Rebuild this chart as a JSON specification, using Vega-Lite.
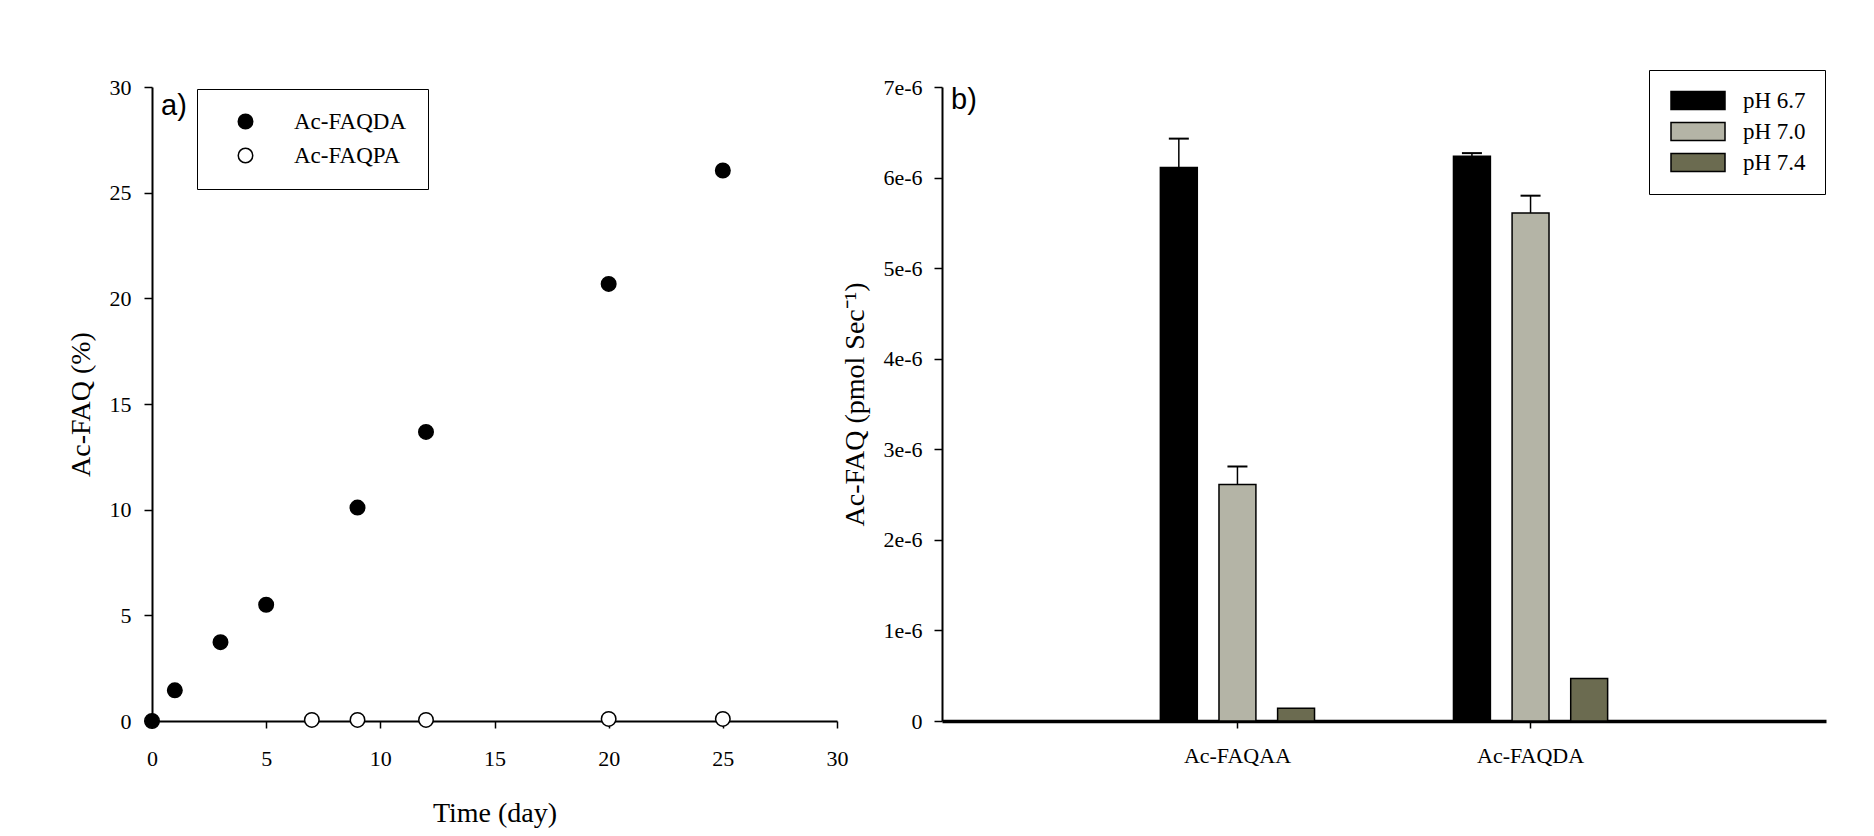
{
  "$schema": "https://vega.github.io/schema/vega-lite/v6.json",
  "background": "white",
  "padding": {"left": 67, "top": 69, "right": 5, "bottom": 5},
  "spacing": 105,
  "bounds": "flush",
  "config": {
    "font": "Liberation Serif",
    "view": {"stroke": null},
    "axis": {
      "grid": false,
      "domainColor": "black",
      "tickColor": "black",
      "labelColor": "black",
      "titleColor": "black",
      "labelFont": "Liberation Serif",
      "titleFont": "Liberation Serif",
      "labelFontSize": 22,
      "titleFontSize": 28,
      "titleFontWeight": "normal",
      "tickSize": 8,
      "tickWidth": 1.5,
      "domainWidth": 2
    }
  },
  "resolve": {"scale": {"fill": "independent", "x": "independent", "y": "independent"}},
  "hconcat": [
    {
      "width": 685,
      "height": 634,
      "title": {"text": "a)", "anchor": "start", "frame": "group", "font": "Liberation Sans", "fontSize": 29, "fontWeight": "normal", "color": "black", "offset": 0, "baseline": "top", "dx": 9, "dy": 45},
      "data": {"values": [
        {"day": 0, "pct": 0, "peptide": "Ac-FAQDA"},
        {"day": 1, "pct": 1.45, "peptide": "Ac-FAQDA"},
        {"day": 3, "pct": 3.73, "peptide": "Ac-FAQDA"},
        {"day": 5, "pct": 5.5, "peptide": "Ac-FAQDA"},
        {"day": 9, "pct": 10.1, "peptide": "Ac-FAQDA"},
        {"day": 12, "pct": 13.68, "peptide": "Ac-FAQDA"},
        {"day": 20, "pct": 20.68, "peptide": "Ac-FAQDA"},
        {"day": 25, "pct": 26.05, "peptide": "Ac-FAQDA"},
        {"day": 7, "pct": 0.05, "peptide": "Ac-FAQPA"},
        {"day": 9, "pct": 0.05, "peptide": "Ac-FAQPA"},
        {"day": 12, "pct": 0.05, "peptide": "Ac-FAQPA"},
        {"day": 20, "pct": 0.1, "peptide": "Ac-FAQPA"},
        {"day": 25, "pct": 0.1, "peptide": "Ac-FAQPA"}
      ]},
      "mark": {"type": "point", "shape": "circle", "filled": true, "size": 210, "stroke": "black", "strokeWidth": 1.5, "opacity": 1, "clip": false},
      "encoding": {
        "x": {"field": "day", "type": "quantitative", "scale": {"domain": [0, 30], "nice": false},
              "axis": {"title": "Time (day)", "values": [0, 5, 10, 15, 20, 25, 30], "labelPadding": 20, "titlePadding": 30, "labelFlush": false, "tickSize": 7}},
        "y": {"field": "pct", "type": "quantitative", "scale": {"domain": [0, 30], "nice": false},
              "axis": {"title": "Ac-FAQ (%)", "values": [0, 5, 10, 15, 20, 25, 30], "labelPadding": 13, "titlePadding": 14}},
        "fill": {"field": "peptide", "type": "nominal",
                 "scale": {"domain": ["Ac-FAQDA", "Ac-FAQPA"], "range": ["black", "white"]},
                 "legend": {"title": null, "orient": "none", "legendX": 45, "legendY": 2, "strokeColor": "black", "fillColor": "white", "padding": 21,
                            "symbolType": "circle", "symbolSize": 210, "symbolStrokeColor": "black", "symbolStrokeWidth": 1.5, "symbolOffset": 16,
                            "labelOffset": 37, "rowPadding": 10, "labelFontSize": 23, "labelFont": "Liberation Serif", "labelColor": "black", "labelLimit": 300}}
      }
    },
    {
      "width": 884,
      "height": 634,
      "title": {"text": "b)", "anchor": "start", "frame": "group", "font": "Liberation Sans", "fontSize": 29, "fontWeight": "normal", "color": "black", "offset": 0, "baseline": "top", "dx": 9, "dy": 45},
      "data": {"values": [
        {"peptide": "Ac-FAQAA", "pH": "pH 6.7", "rate": 6.11e-6, "hi": 6.43e-6},
        {"peptide": "Ac-FAQAA", "pH": "pH 7.0", "rate": 2.61e-6, "hi": 2.81e-6},
        {"peptide": "Ac-FAQAA", "pH": "pH 7.4", "rate": 0.14e-6, "hi": null},
        {"peptide": "Ac-FAQDA", "pH": "pH 6.7", "rate": 6.235e-6, "hi": 6.27e-6},
        {"peptide": "Ac-FAQDA", "pH": "pH 7.0", "rate": 5.61e-6, "hi": 5.80e-6},
        {"peptide": "Ac-FAQDA", "pH": "pH 7.4", "rate": 0.47e-6, "hi": null}
      ]},
      "layer": [
        {
          "mark": {"type": "bar", "stroke": "black", "strokeWidth": 1.5},
          "encoding": {
            "x": {"field": "peptide", "type": "nominal", "sort": null,
                  "scale": {"paddingInner": 0.474, "paddingOuter": 0.745},
                  "axis": {"title": null, "labelAngle": 0, "domainWidth": 3.5, "tickSize": 7, "labelPadding": 17}},
            "xOffset": {"field": "pH", "type": "nominal", "scale": {"paddingInner": 0.37, "paddingOuter": 0}},
            "y": {"field": "rate", "type": "quantitative", "scale": {"domain": [0, 7e-6], "nice": false},
                  "axis": {"title": "Ac-FAQ (pmol Sec⁻¹)", "values": [0, 1e-6, 2e-6, 3e-6, 4e-6, 5e-6, 6e-6, 7e-6],
                           "labelExpr": "datum.value == 0 ? '0' : format(datum.value, '.0e')", "labelPadding": 12, "titlePadding": 13}},
            "fill": {"field": "pH", "type": "nominal",
                     "scale": {"domain": ["pH 6.7", "pH 7.0", "pH 7.4"], "range": ["#000000", "#b4b4a6", "#6b6b50"]},
                     "legend": {"title": null, "orient": "none", "legendX": 707, "legendY": -17, "strokeColor": "black", "fillColor": "white", "padding": 19,
                                "symbolType": "M-3,-1H3V1H-3Z", "symbolSize": 324, "symbolStrokeColor": "black", "symbolStrokeWidth": 1.5,
                                "symbolOffset": 18.5, "labelOffset": 33.5, "rowPadding": 6, "labelFontSize": 23, "labelFont": "Liberation Serif",
                                "labelColor": "black", "labelLimit": 300}}
          }
        },
        {
          "transform": [{"filter": "datum.hi != null"}],
          "mark": {"type": "rule", "color": "black", "strokeWidth": 1.5},
          "encoding": {
            "x": {"field": "peptide", "type": "nominal", "sort": null},
            "xOffset": {"field": "pH", "type": "nominal"},
            "y": {"field": "rate", "type": "quantitative"},
            "y2": {"field": "hi"}
          }
        },
        {
          "transform": [{"filter": "datum.hi != null"}],
          "mark": {"type": "tick", "orient": "horizontal", "size": 20, "thickness": 2, "color": "black", "opacity": 1},
          "encoding": {
            "x": {"field": "peptide", "type": "nominal", "sort": null},
            "xOffset": {"field": "pH", "type": "nominal"},
            "y": {"field": "hi", "type": "quantitative"}
          }
        }
      ]
    }
  ]
}
